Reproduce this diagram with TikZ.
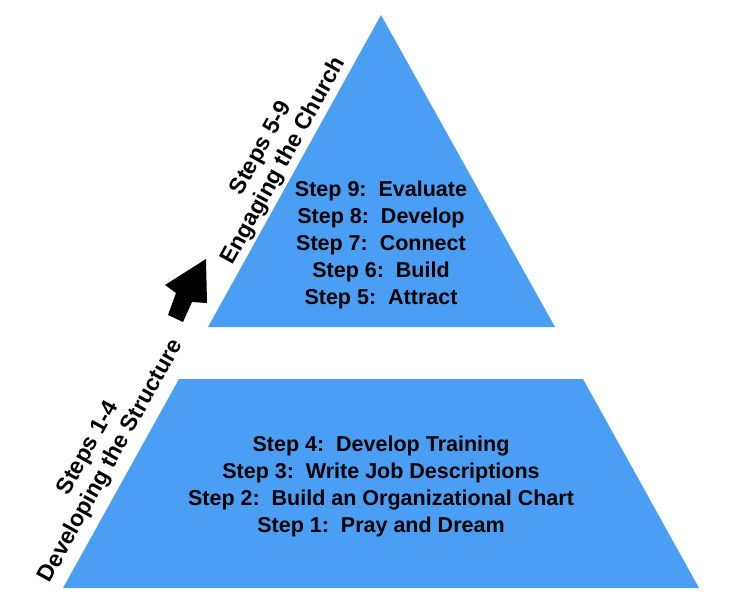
\documentclass[tikz,border=0pt]{standalone}
\usepackage{fontspec}
\setmainfont{Liberation Sans}
\begin{document}
\begin{tikzpicture}[x=1pt,y=-1pt,
  block/.style={fill={rgb,255:red,74;green,159;blue,245}, draw=none},
  lbl/.style={font=\bfseries\fontsize{21.5}{26}\selectfont, align=center, inner sep=0pt},
  side/.style={font=\bfseries\fontsize{23}{26}\selectfont, align=center, inner sep=0pt, rotate=61}]
\useasboundingbox (0,0) rectangle (731,608);
\fill[block] (381,15) -- (555,327) -- (208,327) -- cycle;
\fill[block] (179,379) -- (583,379) -- (699,588) -- (63,588) -- cycle;
\node[lbl] (top) at (381,245) {Step 9:\ \ Evaluate\\[1pt]Step 8:\ \ Develop\\[1pt]Step 7:\ \ Connect\\[1pt]Step 6:\ \ Build\\[1pt]Step 5:\ \ Attract};
\node[lbl] (bot) at (381,486) {Step 4:\ \ Develop Training\\[1pt]Step 3:\ \ Write Job Descriptions\\[1pt]Step 2:\ \ Build an Organizational Chart\\[1pt]Step 1:\ \ Pray and Dream};
\node[side] (s59) at (273,155) {Steps 5-9\\Engaging the Church};
\node[side] (s14) at (100,455) {Steps 1-4\\Developing the Structure};
\fill[black] (206,259) -- (207,303) -- (192,302) -- (183,322) -- (168,315) -- (176,293) -- (165,285) -- cycle;
\end{tikzpicture}
\end{document}
